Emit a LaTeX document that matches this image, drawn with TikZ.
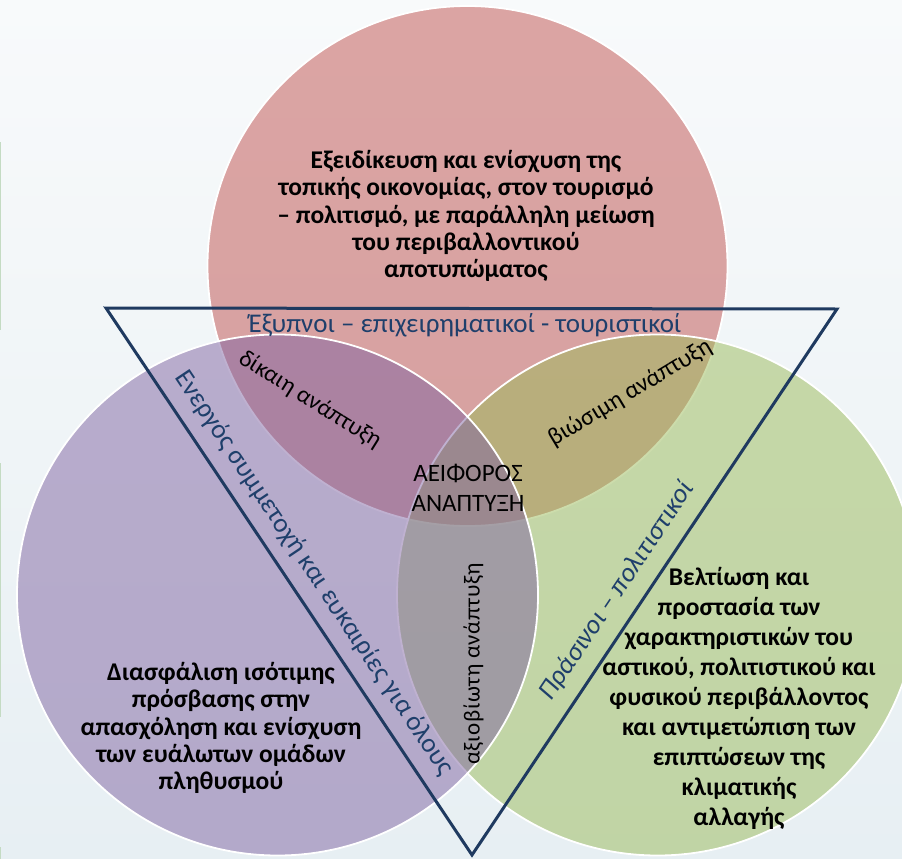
\documentclass[tikz,border=0pt]{standalone}
\usepackage{fontspec}
\setmainfont{Carlito}
\newfontfamily\spacedfont[LetterSpace=2.5]{Carlito}
\definecolor{pinkc}{HTML}{C0504D}
\definecolor{purplec}{HTML}{8064A2}
\definecolor{greenc}{HTML}{9BBB59}
\definecolor{navyline}{HTML}{1F3A60}
\definecolor{navytext}{HTML}{1F3F6B}
\definecolor{bgtop}{HTML}{F8FAFB}
\definecolor{bgbot}{HTML}{E7EFF3}
\definecolor{edgegreen}{HTML}{C4DBC3}
\begin{document}
\begin{tikzpicture}[x=1pt,y=1pt,
  circ/.style={draw=white, line width=1.8pt, fill opacity=0.5},
  tri/.style={draw=navyline, line width=3pt, line join=miter},
  body/.style={font=\fontsize{25.5}{27.3}\selectfont\bfseries, align=center, text=black, inner sep=0pt},
  lens/.style={font=\fontsize{24.5}{28}\selectfont, text=black, inner sep=0pt},
  side/.style={font=\fontsize{27}{30}\selectfont, text=navytext, inner sep=0pt},
  edgeline/.style={draw=edgegreen, line width=1.2pt}]
\useasboundingbox (0,0) rectangle (902,-859);
\shade[top color=bgtop, bottom color=bgbot] (0,0) rectangle (902,-859);
\clip (0,0) rectangle (902,-859);
\draw[edgeline] (0.6,-142) -- (0.6,-330);
\draw[edgeline] (0.6,-463) -- (0.6,-717);
\draw[edgeline] (0.6,-847) -- (0.6,-859);
% circles
\draw[circ, fill=pinkc] (467.5,-266) circle (260);
\draw[circ, fill=greenc] (657.5,-595) circle (260.5);
\draw[circ, fill=purplec] (277.5,-595) circle (260.5);
% triangle
\coordinate (tl) at (106,-308);
\coordinate (tr) at (837,-309);
\coordinate (bv) at (472,-855);
\draw[tri] (tl) -- (tr) -- (bv) -- cycle;
% texts
\node[body] (econ) at (466,-216) {Εξειδίκευση και ενίσχυση της\\τοπικής οικονομίας, στον τουρισμό\\– πολιτισμό, με παράλληλη μείωση\\του περιβαλλοντικού\\αποτυπώματος};
\node[body] (social) at (221,-728) {Διασφάλιση ισότιμης\\πρόσβασης στην\\απασχόληση και ενίσχυση\\των ευάλωτων ομάδων\\πληθυσμού};
\node[body, font=\fontsize{25.5}{30}\selectfont\bfseries] (env) at (739,-698) {Βελτίωση και\\προστασία των\\χαρακτηριστικών του\\αστικού, πολιτιστικού και\\φυσικού περιβάλλοντος\\και αντιμετώπιση των\\επιπτώσεων της\\κλιματικής\\αλλαγής};
\node[font=\fontsize{25}{30}\selectfont, align=center, inner sep=0pt] (core) at (468,-488) {ΑΕΙΦΟΡΟΣ\\ΑΝΑΠΤΥΞΗ};
\node[lens, font=\fontsize{24}{28}\selectfont, rotate=-32] (fair) at (310,-400) {δίκαιη ανάπτυξη};
\node[lens, rotate=31] (viable) at (630,-393) {βιώσιμη ανάπτυξη};
\node[lens, font=\fontsize{23}{26}\spacedfont, rotate=90] (livable) at (473.5,-664) {αξιοβίωτη ανάπτυξη};
\node[side] (smart) at (465,-325) {Έξυπνοι – επιχειρηματικοί - τουριστικοί};
\node[side, rotate=-56.2] (active) at (314,-573) {Ενεργός συμμετοχή και ευκαιρίες για όλους};
\node[side, font=\fontsize{27}{30}\selectfont\itshape, rotate=56.2] (green) at (617,-591) {Πράσινοι – πολιτιστικοί};
\end{tikzpicture}
\end{document}
